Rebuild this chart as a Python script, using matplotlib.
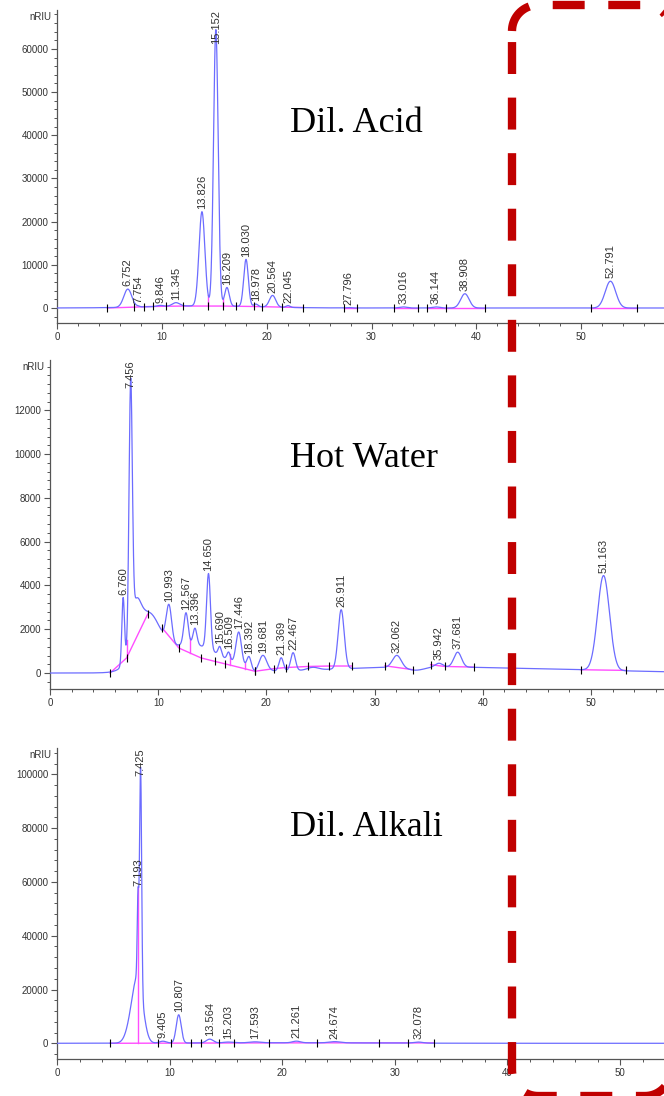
import numpy as np
import matplotlib.pyplot as plt
from matplotlib.ticker import MultipleLocator

plt.rcParams['font.family'] = ['Liberation Sans', 'DejaVu Sans']
plt.rcParams['lines.scale_dashes'] = False

# ---- Dil. Acid ----
acid_rt = [6.752, 7.754, 9.846, 11.345, 13.826, 15.152, 16.209, 18.030,
           18.978, 20.564, 22.045, 27.796, 33.016, 36.144, 38.908, 52.791]
acid_h = [4200, 150, 250, 800, 21800, 64000, 4300, 10900,
          600, 2700, 400, 100, 250, 250, 3300, 6200]
acid_s = [0.38, 0.15, 0.3, 0.35, 0.28, 0.22, 0.22, 0.22,
          0.2, 0.3, 0.2, 0.25, 0.35, 0.35, 0.4, 0.5]
acid_bg_rt = [14.0]
acid_bg_h = [500]
acid_bg_s = [5.0]
acid_base = [([4.8, 7.37, 8.32, 9.12, 10.36, 11.98, 14.42, 15.86, 17.1, 18.78, 19.6, 21.5, 23.5],
              [0, 200, 300, 350, 400, 450, 450, 450, 400, 350, 300, 200, 100]),
             ([27.4, 28.57], [30, 30]),
             ([32.1, 34.4], [30, 30]),
             ([35.3, 37.1, 40.8], [30, 30, 30]),
             ([50.9, 55.3], [30, 30])]
acid_drops = [14.42, 15.86]

# ---- Hot Water ----
hot_rt = [6.760, 7.456, 10.993, 12.567, 13.396, 14.650, 15.690, 16.509, 17.446,
          18.392, 19.681, 21.369, 22.467, 26.911, 32.062, 35.942, 37.681, 51.163]
hot_h = [3000, 11400, 1700, 1450, 750, 3450, 400, 370, 1500,
         550, 690, 600, 820, 2700, 550, 170, 680, 4330]
hot_s = [0.12, 0.15, 0.25, 0.2, 0.18, 0.18, 0.15, 0.15, 0.25,
         0.2, 0.35, 0.2, 0.22, 0.28, 0.4, 0.35, 0.35, 0.55]
hot_bg_rt = [7.9, 9.0, 13.0, 33.0, 47.0, 33.8, 18.95, 24.3]
hot_bg_h = [1700, 2300, 1300, 250, 120, -150, -120, 120]
hot_bg_s = [0.45, 1.1, 2.7, 8.0, 8.0, 0.8, 0.3, 0.5]
hot_base = [([5.55, 7.08, 9.03], [0, 690, 2690]),
            ([10.38, 11.92, 13.96, 15.25, 16.17, 18.95], [2050, 1140, 690, 530, 420, 80]),
            ([18.95, 20.7, 21.78, 23.87, 25.8, 27.94], [80, 200, 250, 300, 320, 320]),
            ([30.96, 33.58], [330, 150]),
            ([35.18, 36.5, 39.19], [380, 300, 270]),
            ([49.04, 53.23], [150, 120])]
hot_drops = [7.08, 12.94, 16.6, 18.0]

# ---- Dil. Alkali ----
alk_rt = [7.193, 7.425, 9.405, 10.807, 13.564, 15.203, 17.593, 21.261, 24.674, 32.078]
alk_h = [30000, 82000, 700, 10500, 1400, 300, 350, 600, 450, 400]
alk_s = [0.07, 0.09, 0.3, 0.22, 0.3, 0.4, 0.5, 0.35, 0.5, 0.4]
alk_bg_rt = [7.2, 6.6, 20.0]
alk_bg_h = [22000, 6000, 200]
alk_bg_s = [0.45, 0.45, 8.0]
alk_base = [([4.71, 9.0, 10.1, 11.9, 12.8, 14.4, 15.75, 18.85, 23.1, 28.6, 31.2, 33.5],
             [0, 50, 60, 80, 90, 100, 120, 150, 170, 160, 150, 140])]
alk_drops = [7.22]

blue = '#6c6cff'
pink = '#ff4dff'
grey = '#555555'


def gauss_sum(t, rt, h, s):
    y = np.zeros_like(t)
    for c, a, w in zip(rt, h, s):
        y += a * np.exp(-(t - c) ** 2 / (2 * w ** 2))
    return y


def panel(fig, rect, xmax, ylim, ymaj, ymin, rt, h, s, bgr, bgh, bgs, base, drops):
    ax = fig.add_axes(rect)
    t = np.linspace(0, xmax, 4000)
    y = gauss_sum(t, rt, h, s) + gauss_sum(t, bgr, bgh, bgs)
    for bt, bv in base:
        ax.plot(bt, bv, color=pink, lw=1.0, zorder=2)
        ax.plot(bt, bv, ls='none', marker='|', ms=6, mew=0.8, color='black', zorder=4)
    for d in drops:
        bv = np.interp(d, *[np.concatenate(v) for v in zip(*base)])
        ax.plot([d, d], [bv, np.interp(d, t, y)], color=pink, lw=1.0, zorder=2)
    ax.plot(t, y, color=blue, lw=0.9, zorder=3)
    ax.set_xlim(0, xmax)
    ax.set_ylim(*ylim)

    # peak labels
    fig.canvas.draw()
    hpx = ax.get_window_extent().height
    per_px = (ylim[1] - ylim[0]) / hpx
    for c in rt:
        apex = np.interp(c, t, y)
        if apex + 42 * per_px > ylim[1]:
            ax.annotate(f'{c:.3f}', (c, ylim[1]), xytext=(0, 0), textcoords='offset points',
                        rotation=90, ha='center', va='top', fontsize=8, color='#333333',
                        zorder=5, annotation_clip=False)
        else:
            ax.annotate(f'{c:.3f}', (c, apex), xytext=(0, 2), textcoords='offset points',
                        rotation=90, ha='center', va='bottom', fontsize=8, color='#333333',
                        zorder=5)

    for sp in ['top', 'right']:
        ax.spines[sp].set_visible(False)
    for sp in ['left', 'bottom']:
        ax.spines[sp].set_color(grey)
        ax.spines[sp].set_linewidth(0.9)
    ax.xaxis.set_major_locator(MultipleLocator(10))
    ax.xaxis.set_minor_locator(MultipleLocator(2))
    ax.yaxis.set_major_locator(MultipleLocator(ymaj))
    ax.yaxis.set_minor_locator(MultipleLocator(ymin))
    ax.tick_params(which='major', length=4.2, width=0.8, color=grey, labelsize=7,
                   labelcolor='#333333', pad=2)
    ax.tick_params(which='minor', length=2.5, width=0.7, color=grey)
    ax.set_yticks([v for v in ax.get_yticks() if 0 <= v <= ylim[1] - ymaj * 0.3])
    ax.set_ylim(*ylim)
    ax.annotate('nRIU', xy=(0, 1), xycoords='axes fraction', xytext=(-4, -5),
                textcoords='offset points', ha='right', va='center', fontsize=7,
                color='#333333')
    ax.patch.set_alpha(0)
    return ax


W, H = 664, 1096
fig = plt.figure(figsize=(W / 100, H / 100), dpi=100)

panel(fig, [57 / W, (H - 323) / H, (W - 57) / W, (323 - 10) / H], 57.9, (-3475, 69000),
      10000, 2000, acid_rt, acid_h, acid_s, acid_bg_rt, acid_bg_h, acid_bg_s, acid_base, acid_drops)
panel(fig, [50 / W, (H - 689) / H, (W - 50) / W, (689 - 360) / H], 56.75, (-730, 14300),
      2000, 400, hot_rt, hot_h, hot_s, hot_bg_rt, hot_bg_h, hot_bg_s, hot_base, hot_drops)
panel(fig, [57 / W, (H - 1059) / H, (W - 57) / W, (1059 - 748) / H], 53.9, (-5840, 109800),
      20000, 4000, alk_rt, alk_h, alk_s, alk_bg_rt, alk_bg_h, alk_bg_s, alk_base, alk_drops)

# overlay in pixel coordinates for sample names and the highlight box
ov = fig.add_axes([0, 0, 1, 1], zorder=10)
ov.set_xlim(0, W)
ov.set_ylim(H, 0)
ov.axis('off')
ov.patch.set_alpha(0)
for name, yb in [('Dil. Acid', 132), ('Hot Water', 467), ('Dil. Alkali', 836)]:
    ov.text(290, yb, name, fontsize=26, family='Liberation Serif', va='baseline', ha='left')

# rounded dashed box, traced clockwise from the left end of the top-left corner
x0, y0, x1, y1, r = 512, 5, 671, 1096, 26
xs, ys = [], []
for cx, cy, a0 in [(x0 + r, y0 + r, 180), (x1 - r, y0 + r, 270),
                   (x1 - r, y1 - r, 0), (x0 + r, y1 - r, 90)]:
    a = np.radians(np.linspace(a0, a0 + 90, 20))
    xs.extend(cx + r * np.cos(a))
    ys.extend(cy + r * np.sin(a))
xs.append(xs[0])
ys.append(ys[0])
ov.plot(xs, ys, color='#c00000', lw=6, dashes=(23, 17), dash_capstyle='butt',
        solid_joinstyle='round', clip_on=False)

fig.savefig('out.png', dpi=100)
